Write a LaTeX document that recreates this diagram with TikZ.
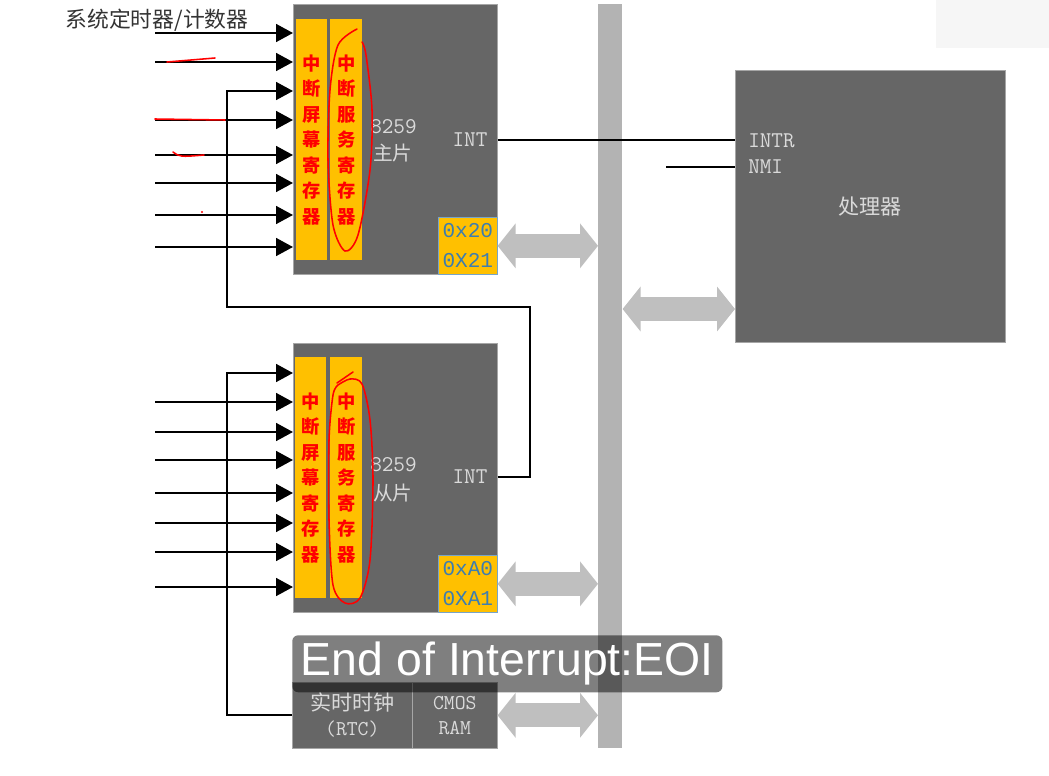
\documentclass[tikz,border=0pt]{standalone}
\usepackage{fontspec}
\setmainfont{Liberation Sans}
\newfontfamily\cjk{Noto Sans CJK SC}
\newfontfamily\addrfont{Liberation Mono}
\usetikzlibrary{arrows.meta, positioning}

\definecolor{chipgray}{HTML}{666666}
\definecolor{busgray}{HTML}{B3B3B3}
\definecolor{linkgray}{HTML}{BFBFBF}
\definecolor{regorange}{HTML}{FFC000}
\definecolor{addrblue}{HTML}{3D7DB0}
\definecolor{pale}{HTML}{DADADA}

\begin{document}
\begin{tikzpicture}[
    x=0.025cm, y=-0.025cm,
    chip/.style={fill=chipgray, draw=gray!70, line width=0.4pt, anchor=north west, inner sep=0pt},
    reg/.style={fill=regorange, anchor=north west, minimum width=0.775cm, minimum height=6.025cm,
        inner sep=0pt, text=red, align=center, font=\cjk\bfseries\fontsize{13}{18.1}\selectfont},
    addr/.style={fill=regorange, draw=addrblue!70, anchor=south east, minimum width=1.475cm,
        minimum height=1.425cm, inner sep=0pt, text=addrblue, align=center,
        font=\addrfont\fontsize{15}{21.3}\selectfont},
    pin/.style={text=pale, inner sep=0pt, font=\ttfamily\fontsize{16}{18}\selectfont},
    cjklabel/.style={text=pale, inner sep=0pt, font=\cjk\fontsize{14}{17}\selectfont},
    sig/.style={line width=1.6pt, -{Triangle[length=0.42cm,width=0.44cm]}},
    wire/.style={line width=1.2pt},
    link/.style={line width=0.6cm, linkgray,
        {Triangle[length=0.45cm,width=1.1cm]}-{Triangle[length=0.45cm,width=1.1cm]}},
    redpen/.style={red, line width=1.1pt, line cap=round}
]
    \useasboundingbox (0,0) rectangle (1049,775);
    \fill[gray!7] (936,0) rectangle (1049,48);

    % System bus
    \node[fill=busgray, anchor=north west, minimum width=0.6cm, minimum height=18.6cm, inner sep=0pt] (bus) at (598,4) {};

    % Master 8259
    \node[chip, minimum width=5.1cm, minimum height=6.75cm] (master) at (293,4) {};
    \node[reg] (mimr) at (296,19) {中\\断\\屏\\幕\\寄\\存\\器};
    \node[reg, minimum width=0.8cm] (misr) at (330,19) {中\\断\\服\\务\\寄\\存\\器};
    \node[pin, anchor=west] (mname) at (370,127) {8259};
    \node[cjklabel, anchor=west] (mrole) at (373,153) {主片};
    \node[pin] (mint) at (470,140) {INT};
    \node[addr] (maddr) at (master.south east) {0x20\\0X21};

    % Slave 8259
    \node[chip, minimum width=5.1cm, minimum height=6.725cm] (slave) at (293,343) {};
    \node[reg] (simr) at (295,357) {中\\断\\屏\\幕\\寄\\存\\器};
    \node[reg, minimum width=0.8cm] (sisr) at (330,357) {中\\断\\服\\务\\寄\\存\\器};
    \node[pin, anchor=west] (sname) at (370,465) {8259};
    \node[cjklabel, anchor=west] (srole) at (373,493) {从片};
    \node[pin] (sint) at (470,477) {INT};
    \node[addr] (saddr) at (slave.south east) {0xA0\\0XA1};

    % RTC and CMOS
    \node[chip, minimum width=3cm, minimum height=1.65cm, align=center, text=pale,
          font=\ttfamily\fontsize{15}{17.8}\selectfont] (rtc) at (292,682) {{\cjk 实时时钟}\\(RTC)};
    \node[chip, minimum width=2.125cm, minimum height=1.65cm, align=center, text=pale,
          font=\ttfamily\fontsize{15}{17.8}\selectfont] (cmos) at (412,682) {CMOS\\RAM};

    % Processor
    \node[chip, minimum width=6.75cm, minimum height=6.8cm] (cpu) at (735,70) {};
    \node[pin, anchor=west] (intr) at (748,141) {INTR};
    \node[pin, anchor=west] (nmi) at (748,167) {NMI};
    \node[cjklabel, font=\cjk\fontsize{15}{18}\selectfont] (cpuname) at (870,207) {处理器};

    % Label
    \node[inner sep=0pt, text=black!80, font=\cjk\fontsize{15.5}{17}\selectfont] (timer) at (157,20) {系统定时器/计数器};

    % Interrupt inputs
    \foreach \y in {33,62,120,155,183,215,247} {
        \coordinate (in) at (155,\y);
        \draw[sig] (in) -- (in -| master.west);
    }
    \foreach \y in {402,432,460,493,523,552,587} {
        \coordinate (in) at (155,\y);
        \draw[sig] (in) -- (in -| slave.west);
    }

    % Cascade and RTC lines
    \coordinate (cas) at (530,307);
    \coordinate (cin) at (227,91);
    \draw[sig] (slave.east |- sint) -| (cas) -| (cin) -- (cin -| master.west);
    \coordinate (rin) at (227,373);
    \draw[sig] (rtc.west) -| (rin) -- (rin -| slave.west);

    % INTR / NMI
    \draw[wire] (master.east |- mint) -- (cpu.west |- mint);
    \coordinate (nmiin) at (666,167);
    \draw[wire] (nmiin) -- (cpu.west |- nmi);

    % Bus links
    \coordinate (cpuport) at (700,309);
    \draw[link] (maddr.east) -- (maddr.east -| bus.west);
    \draw[link] (saddr.east) -- (saddr.east -| bus.west);
    \draw[link] (cmos.east) -- (cmos.east -| bus.west);
    \draw[link] (bus.east |- cpuport) -- (cpu.west |- cpuport);

    % Caption
    \node[anchor=north west, fill=black, fill opacity=0.5, text opacity=1, text=white,
          rounded corners=0.15cm, minimum width=10.75cm, minimum height=1.425cm, inner sep=0pt,
          font=\fontsize{33}{36}\selectfont] (eoi) at (292,635) {End of Interrupt:EOI};

    % Hand marks
    \draw[redpen] (167,62) -- (215,58);
    \draw[redpen] (155,119) -- (225,120);
    \draw[redpen] (173,152) .. controls (180,157) .. (204,155);
    \fill[red] (202,212) circle (1.2);
    \draw[redpen] plot[smooth] coordinates {(357,29) (338,45) (330,90) (328,160) (333,225) (345,251)
        (358,235) (370,170) (372,110) (366,55) (362,42)};
    \draw[redpen] (337,383) -- (353,372);
    \draw[redpen] plot[smooth] coordinates {(338,385) (350,379) (362,384) (370,420) (373,480)
        (370,560) (360,598) (345,603) (333,585) (329,520) (329,440) (333,395) (338,385)};
\end{tikzpicture}
\end{document}
